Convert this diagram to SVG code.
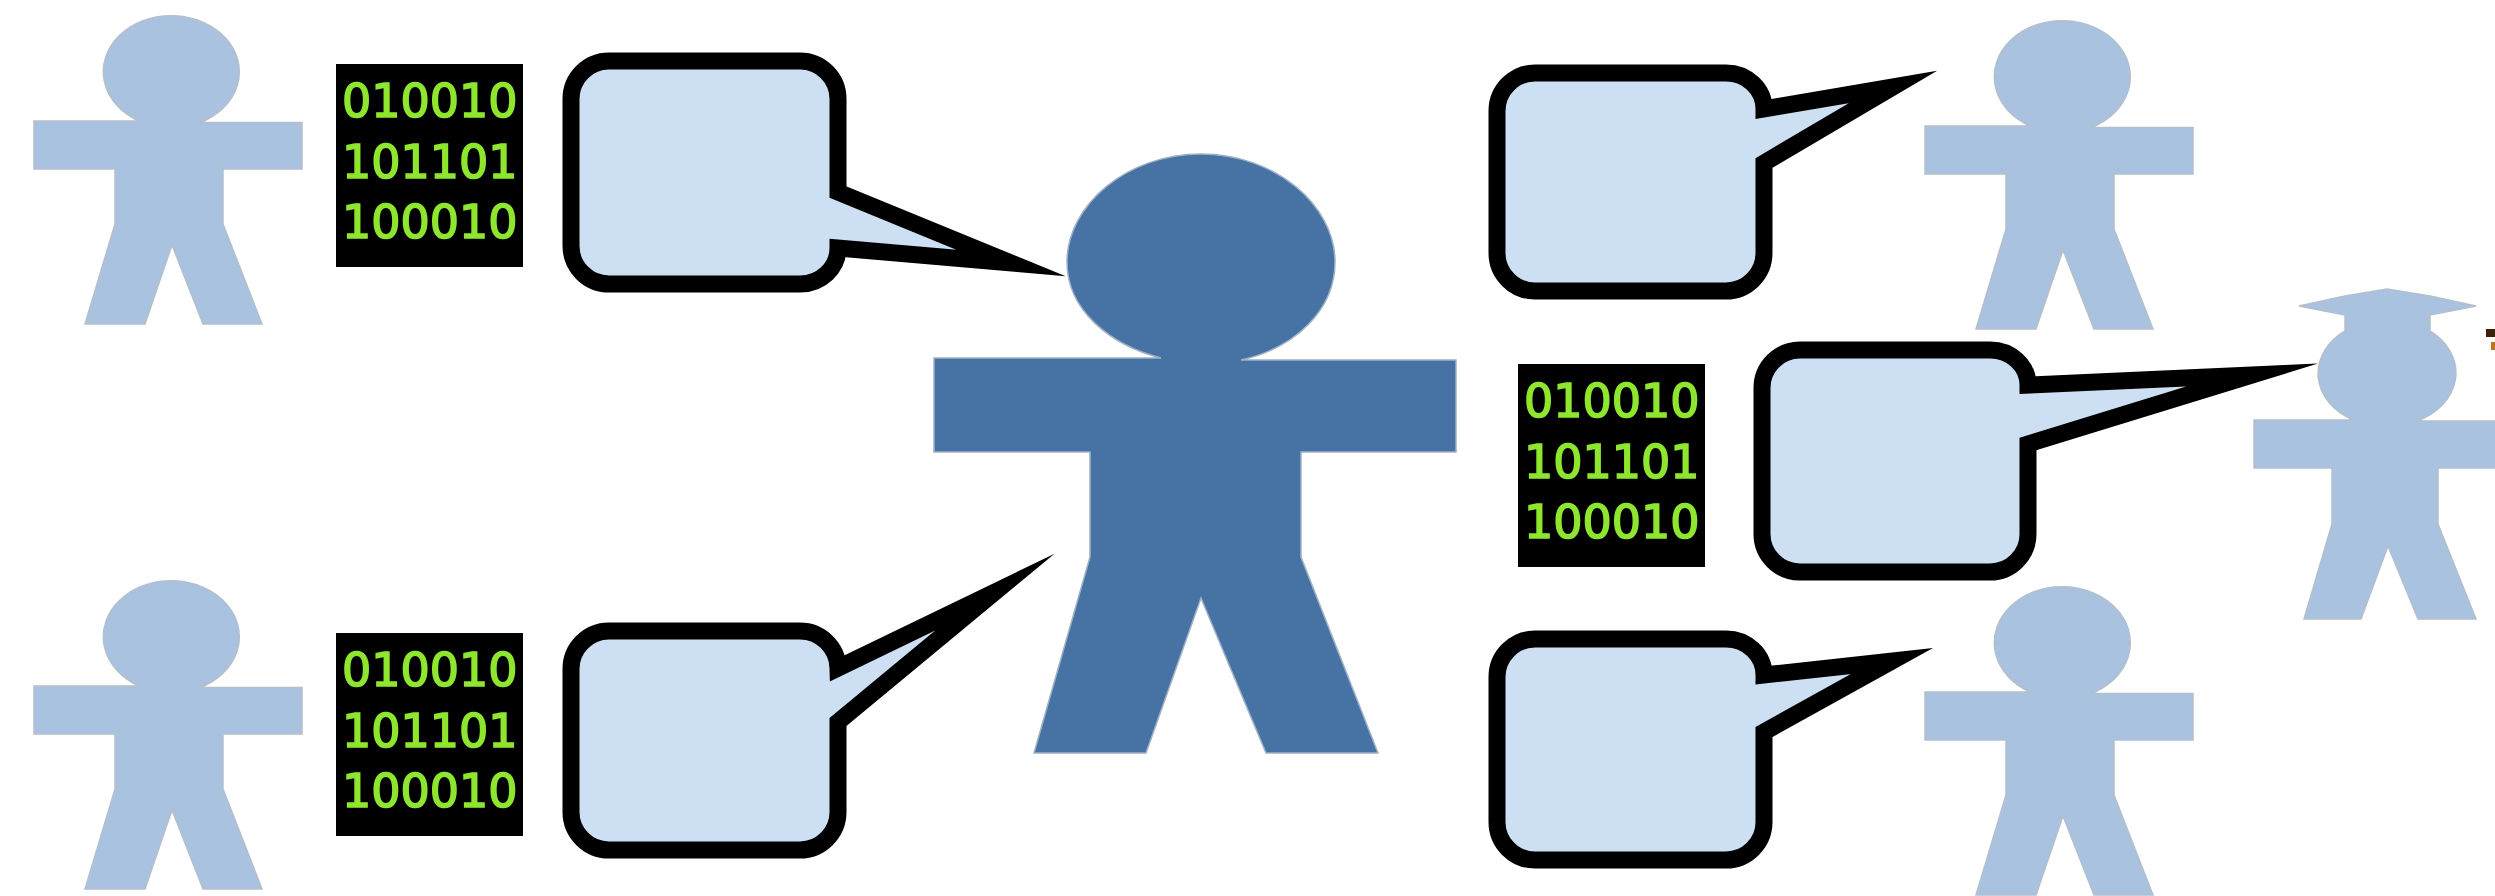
<svg xmlns="http://www.w3.org/2000/svg" width="2495" height="896" viewBox="0 0 2495 896">
<style>
.lt{fill:#a8c2df;stroke:#b4bfcb;stroke-width:1.5}
.dk{fill:#4673a3;stroke:#9fb1c6;stroke-width:1.5}
.bub{fill:#cddff3;stroke:#000;stroke-width:17;stroke-linejoin:miter;stroke-miterlimit:40;filter:url(#soft)}
.box{fill:#000}
.bin{font-family:"DejaVu Sans","Liberation Sans",sans-serif;font-size:46px;fill:#8ee62e;stroke:#8ee62e;stroke-width:1.6;filter:url(#soft)}
</style>
<defs>
<filter id="soft" filterUnits="userSpaceOnUse" x="0" y="0" width="2495" height="896"><feGaussianBlur stdDeviation="0.6"/></filter>
<path id="person" d="M34 121H139A68 56 0 1 1 200 122.500H302V169H223V224L262 324H203L172 245L145 324H85L115 224V169H34Z"/>
<g id="bits">
<rect class="box" width="187" height="203"/>
<text class="bin" x="6" y="53">010010</text>
<text class="bin" x="6" y="114">101101</text>
<text class="bin" x="6" y="174">100010</text>
</g>
</defs>
<rect width="2495" height="896" fill="#fff"/>
<g id="person-top-left"><use href="#person" class="lt"/></g>
<g id="person-bottom-left"><use href="#person" y="565" class="lt"/></g>
<g id="person-top-right"><use href="#person" x="1891" y="5" class="lt"/></g>
<g id="person-bottom-right"><use href="#person" x="1891" y="571" class="lt"/></g>
<g id="person-center"><path class="dk" d="M934 358H1161C1110 345 1067 310 1067 262C1067 205 1127 154 1201 154C1275 154 1335 205 1335 262C1335 310 1295 348 1241 360H1456V452H1301V557L1378 753H1266L1201 598L1146 753H1034L1090 557V452H934Z"/></g>
<g id="person-graduate"><path class="lt" d="M2299 306L2345 296L2387 289L2430 296L2476 306L2430 315V331A67 53 0 0 1 2417 421H2510V468H2438V524L2476 619H2418L2388 546L2361 619H2304L2332 524V468H2254V420H2353A67 53 0 0 1 2345 331V315Z"/></g>
<g id="speck"><rect x="2486" y="329" width="9" height="8" fill="#3a2208"/><rect x="2491" y="342" width="4" height="8" fill="#b9761f"/></g>
<g id="binary-top-left"><use href="#bits" x="336" y="64"/></g>
<g id="binary-bottom-left"><use href="#bits" x="336" y="633"/></g>
<g id="binary-right"><use href="#bits" x="1518" y="364"/></g>
<g id="bubble-top-left"><path class="bub" d="M609 61H800A38 38 0 0 1 838 99V192L1011 263L838 248A38 36 0 0 1 800 284H609A38 38 0 0 1 571 246V99A38 38 0 0 1 609 61Z"/></g>
<g id="bubble-bottom-left"><path class="bub" d="M609 631H800A38 38 0 0 1 838 668L995 592L838 722V812A38 38 0 0 1 800 850H609A38 38 0 0 1 571 812V669A38 38 0 0 1 609 631Z"/></g>
<g id="bubble-top-right"><path class="bub" d="M1535 73H1726A38 36 0 0 1 1764 109L1893 87L1764 163V253A38 38 0 0 1 1726 291H1535A38 38 0 0 1 1497 253V111A38 38 0 0 1 1535 73Z"/></g>
<g id="bubble-bottom-right"><path class="bub" d="M1535 639H1726A38 36 0 0 1 1764 675L1892 661L1764 732V822A38 38 0 0 1 1726 860H1535A38 38 0 0 1 1497 822V677A38 38 0 0 1 1535 639Z"/></g>
<g id="bubble-graduate"><path class="bub" d="M1800 350H1990A38 35 0 0 1 2028 385L2252 375L2028 444V534A38 38 0 0 1 1990 572H1800A38 38 0 0 1 1762 534V388A38 38 0 0 1 1800 350Z"/></g>
</svg>
